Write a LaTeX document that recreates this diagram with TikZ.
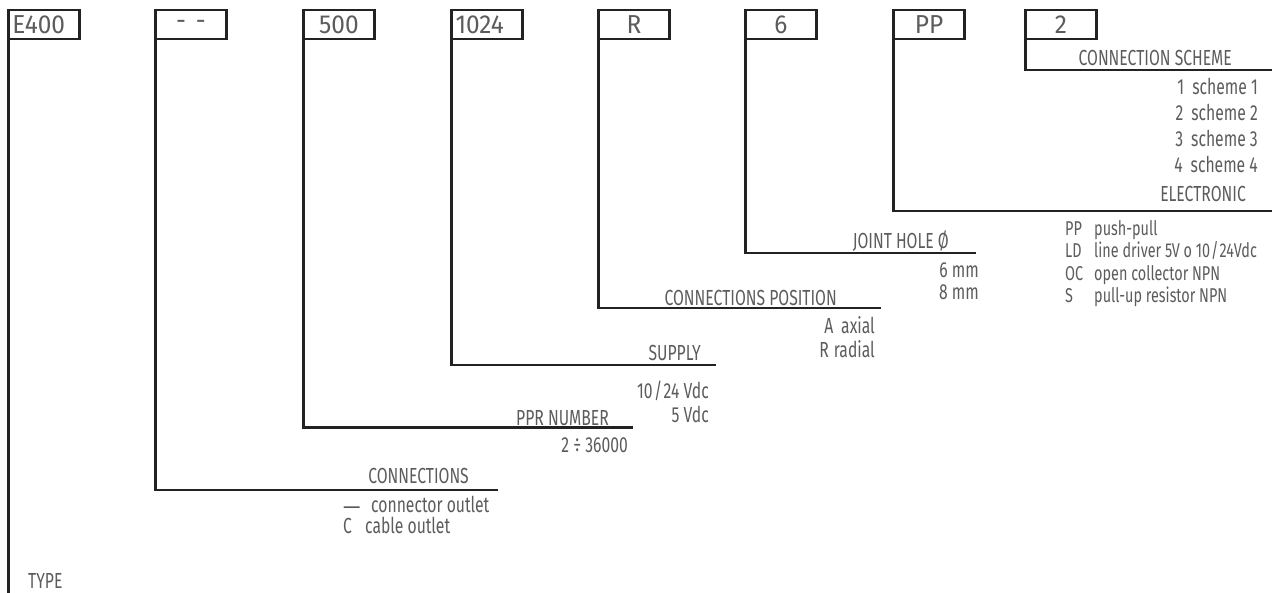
\documentclass[tikz,border=0pt]{standalone}
\usepackage{fontspec}
\setmainfont{Fira Sans}[FakeStretch=0.72]
\newfontfamily\boxfont{Fira Sans}[FakeStretch=0.94]
\definecolor{txt}{HTML}{5C5C5C}
\definecolor{lnc}{HTML}{222222}
\begin{document}
\begin{tikzpicture}[x=1pt,y=-1pt,
  ln/.style={line width=2.6pt, draw=lnc},
  codebox/.style={ln, rectangle, minimum height=29pt, inner xsep=4pt, inner ysep=0pt,
    text width=63pt, align=center, outer sep=0pt,
    font=\boxfont\fontsize{26}{26}\selectfont, text=txt},
  lab/.style={font=\fontsize{21.8}{24}\selectfont, text=txt, inner sep=0pt, anchor=base east},
  labw/.style={font=\fontsize{21.8}{24}\selectfont, text=txt, inner sep=0pt, anchor=base west},
  small/.style={font=\fontsize{20}{22}\selectfont, text=txt, inner sep=0pt, anchor=base west},
]
\useasboundingbox (0,0) rectangle (1283,592);

% code boxes
\node[codebox, align=left] (b1) at (44,24.5) {E400};
\node[codebox] (b2) at (191,24.5) {-\hspace{10pt}-};
\node[codebox] (b3) at (339,24.5) {500};
\node[codebox, align=left] (b4) at (487,24.5) {1024};
\node[codebox] (b5) at (634,24.5) {R};
\node[codebox] (b6) at (781,24.5) {6};
\node[codebox] (b7) at (929,24.5) {PP};
\node[codebox] (b8) at (1061,24.5) {2};

% line ends
\coordinate (e1) at (8.5,600);
\coordinate (e2) at (498,490);
\coordinate (e3) at (633,427.5);
\coordinate (e4) at (716,365);
\coordinate (e5) at (881,308);
\coordinate (e6) at (976,253);
\coordinate (e7) at (1272,211);
\coordinate (e8) at (1272,70);

\draw[ln] (b1.south west) -- (e1);
\draw[ln] (b2.south west) |- (e2);
\draw[ln] (b3.south west) |- (e3);
\draw[ln] (b4.south west) |- (e4);
\draw[ln] (b5.south west) |- (e5);
\draw[ln] (b6.south west) |- (e6);
\draw[ln] (b7.south west) |- (e7);
\draw[ln] (b8.south west) |- (e8);

% CONNECTION SCHEME
\node[lab] (h8) at (1232,65) {CONNECTION SCHEME};
\node[lab] (s1) at (1258,94) {1\hspace{8pt}scheme 1};
\node[lab] (s2) at (1258,120) {2\hspace{8pt}scheme 2};
\node[lab] (s3) at (1258,146) {3\hspace{8pt}scheme 3};
\node[lab] (s4) at (1258,172) {4\hspace{8pt}scheme 4};

% ELECTRONIC
\node[lab] (h7) at (1246,201) {ELECTRONIC};
\node[small] (c1) at (1065,235) {PP};
\node[small] (c2) at (1065,257) {LD};
\node[small] (c3) at (1065,280) {OC};
\node[small] (c4) at (1065,302) {S};
\node[small] (d1) at (1094,235) {push-pull};
\node[small] (d2) at (1094,257) {line driver 5V o 10\kern1pt/\kern1pt24Vdc};
\node[small] (d3) at (1094,280) {open collector NPN};
\node[small] (d4) at (1094,302) {pull-up resistor NPN};

% JOINT HOLE
\node[lab] (h6) at (949,248) {JOINT HOLE Ø};
\node[lab] (j1) at (979,277) {6 mm};
\node[lab] (j2) at (979,299) {8 mm};

% CONNECTIONS POSITION
\node[lab] (h5) at (837,305) {CONNECTIONS POSITION};
\node[lab] (p1) at (875,333) {A\hspace{8pt}axial};
\node[lab] (p2) at (875,357) {R\hspace{5pt}radial};

% SUPPLY
\node[lab] (h4) at (701,360) {SUPPLY};
\node[lab] (v1) at (709,398) {10\kern1.5pt/\kern1.5pt24 Vdc};
\node[lab] (v2) at (709,422) {5 Vdc};

% PPR NUMBER
\node[lab] (h3) at (609,425) {PPR NUMBER};
\node[lab] (r1) at (628,452) {2 ÷ 36000};

% CONNECTIONS
\node[lab] (h2) at (469,483) {CONNECTIONS};
\node[labw] (o1c) at (343,512) {\smash{\raisebox{-2.5pt}{\scalebox{1.4}[1]{—}}}};
\node[labw] (o1) at (371,512) {connector outlet};
\node[labw] (o2c) at (343,533) {C};
\node[labw] (o2) at (365,533) {cable outlet};

% TYPE
\node[labw] (h1) at (28,588) {TYPE};
\end{tikzpicture}
\end{document}
